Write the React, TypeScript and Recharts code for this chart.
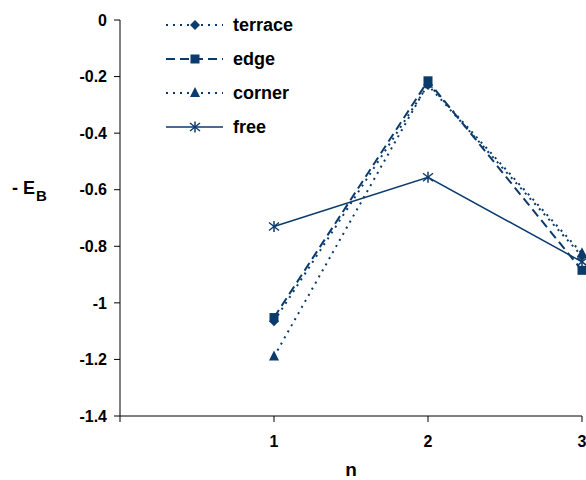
import React from "react";
import { LineChart, Line, XAxis, YAxis, Legend } from "recharts";

document.body.style.margin = "0";

const nValues = [1, 2, 3];
const terrace = [-1.065, -0.23, -0.835];
const edge = [-1.052, -0.215, -0.885];
const corner = [-1.19, -0.225, -0.825];
const free = [-0.73, -0.556, -0.855];

const xTicks = [0, 1, 2, 3];
const yTicks = [-1.4, -1.2, -1, -0.8, -0.6, -0.4, -0.2, 0];

const NAVY = "#0b3a6c";
const FONT = "'Liberation Sans', Arial, sans-serif";

const data = nValues.map((n, i) => ({
  n,
  terrace: terrace[i],
  edge: edge[i],
  corner: corner[i],
  free: free[i],
}));

type Shape = "diamond" | "square" | "triangle" | "star";

function Marker({ cx, cy, shape }: { cx: number; cy: number; shape: Shape }) {
  if (cx == null || cy == null) return null;
  if (shape === "diamond")
    return (
      <polygon
        points={`${cx},${cy - 5} ${cx + 5},${cy} ${cx},${cy + 5} ${cx - 5},${cy}`}
        fill={NAVY}
      />
    );
  if (shape === "square")
    return <rect x={cx - 4.5} y={cy - 4.5} width={9} height={9} fill={NAVY} />;
  if (shape === "triangle")
    return (
      <polygon
        points={`${cx},${cy - 6} ${cx + 5},${cy + 4} ${cx - 5},${cy + 4}`}
        fill={NAVY}
      />
    );
  return (
    <g stroke={NAVY} strokeWidth={1.5}>
      <line x1={cx} y1={cy - 5.5} x2={cx} y2={cy + 5.5} />
      <line x1={cx - 5} y1={cy - 4} x2={cx + 5} y2={cy + 4} />
      <line x1={cx - 5} y1={cy + 4} x2={cx + 5} y2={cy - 4} />
    </g>
  );
}

const series: { key: string; dash?: string; width: number; shape: Shape }[] = [
  { key: "terrace", dash: "2 5", width: 2, shape: "diamond" },
  { key: "edge", dash: "9 5", width: 2, shape: "square" },
  { key: "corner", dash: "2 5", width: 2, shape: "triangle" },
  { key: "free", width: 1.5, shape: "star" },
];

const renderLegend = () => (
  <div style={{ fontFamily: FONT }}>
    {series.map((s) => (
      <div key={s.key} style={{ display: "flex", alignItems: "center", height: 34 }}>
        <svg width={66} height={20}>
          <line
            x1={6}
            y1={10}
            x2={63}
            y2={10}
            stroke={NAVY}
            strokeWidth={s.width}
            strokeDasharray={s.dash}
          />
          <Marker cx={35} cy={10} shape={s.shape} />
        </svg>
        <span style={{ fontSize: 18, fontWeight: "bold", color: "#000", marginLeft: 7 }}>
          {s.key}
        </span>
      </div>
    ))}
  </div>
);

const fmt = (v: number) => String(Math.round(v * 10) / 10);

export default function App() {
  return (
    <LineChart
      width={586}
      height={480}
      data={data}
      margin={{ top: 20, right: 4, bottom: 14, left: 0 }}
    >
      <XAxis
        type="number"
        dataKey="n"
        domain={[0, 3]}
        ticks={xTicks}
        tickFormatter={(v: number) => (v === 0 ? "" : String(v))}
        height={50}
        tickSize={6}
        tickMargin={14}
        stroke="#000"
        tick={{ fill: "#000", fontSize: 16, fontWeight: "bold", fontFamily: FONT }}
        label={{
          content: ({ viewBox }: any) => (
            <text
              x={viewBox.x + viewBox.width / 2}
              y={viewBox.y + 60}
              textAnchor="middle"
              fontSize={19}
              fontWeight="bold"
              fontFamily={FONT}
              fill="#000"
            >
              n
            </text>
          ),
        }}
      />
      <YAxis
        type="number"
        domain={[-1.4, 0]}
        ticks={yTicks}
        tickFormatter={fmt}
        width={120}
        tickSize={6}
        tickMargin={7}
        stroke="#000"
        tick={{ fill: "#000", fontSize: 16, fontWeight: "bold", fontFamily: FONT }}
        label={{
          content: ({ viewBox }: any) => (
            <text
              x={12}
              y={viewBox.y + viewBox.height / 2 - 24}
              fontSize={18}
              fontWeight="bold"
              fontFamily={FONT}
              fill="#000"
            >
              - E
              <tspan dy={7} dx={1} fontSize={15}>
                B
              </tspan>
            </text>
          ),
        }}
      />
      <Legend
        layout="vertical"
        verticalAlign="middle"
        align="center"
        content={renderLegend}
        wrapperStyle={{ left: 160, top: 8, width: 160 }}
      />
      {series.map((s) => (
        <Line
          key={s.key}
          type="linear"
          dataKey={s.key}
          stroke={NAVY}
          strokeWidth={s.width}
          strokeDasharray={s.dash}
          dot={(p: any) => <Marker key={`${s.key}-${p.index}`} cx={p.cx} cy={p.cy} shape={s.shape} />}
          activeDot={false}
          isAnimationActive={false}
        />
      ))}
    </LineChart>
  );
}
